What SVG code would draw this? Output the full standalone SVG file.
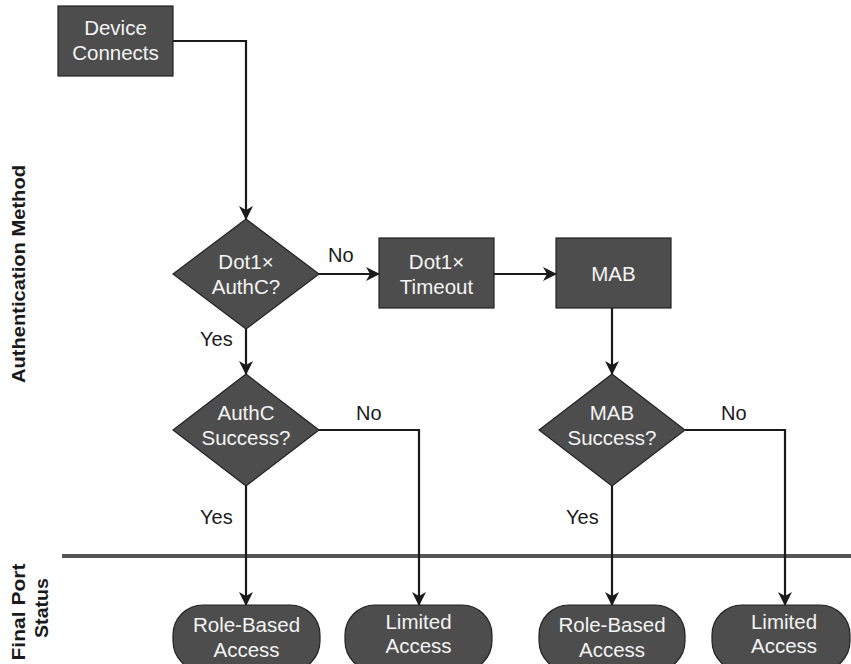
<svg xmlns="http://www.w3.org/2000/svg" width="851" height="664" viewBox="0 0 851 664">
<style>
.node{fill:#4d4d4d;stroke:#222;stroke-width:1.2}
.nt{font-family:"Liberation Sans",Arial,sans-serif;font-size:20.5px;fill:#f4f4f4;text-anchor:middle}
.lbl{font-family:"Liberation Sans",Arial,sans-serif;font-size:20px;fill:#1a1a1a}
.side{font-family:"Liberation Sans",Arial,sans-serif;font-size:18px;font-weight:bold;fill:#1a1a1a;text-anchor:middle}
.conn{fill:none;stroke:#1a1a1a;stroke-width:2.2;marker-end:url(#ah)}
</style>
<defs>
<marker id="ah" markerWidth="14" markerHeight="14" refX="13" refY="7" orient="auto" markerUnits="userSpaceOnUse">
<path d="M0,0 L14,7 L0,14 L4,7 z" fill="#1a1a1a"/>
</marker>
</defs>
<rect width="851" height="664" fill="#fff"/>
<g id="side-labels">
<text class="side" transform="translate(25,274) rotate(-90)" textLength="218" lengthAdjust="spacingAndGlyphs">Authentication Method</text>
<text class="side" transform="translate(25,612) rotate(-90)" textLength="97" lengthAdjust="spacingAndGlyphs">Final Port</text>
<text class="side" transform="translate(48,608) rotate(-90)" textLength="60" lengthAdjust="spacingAndGlyphs">Status</text>
</g>
<line id="separator" x1="62" y1="556" x2="851" y2="556" stroke="#555" stroke-width="4"/>
<g id="connectors">
<path class="conn" d="M173,41 H246 V219"/>
<path class="conn" d="M319,274 H379"/>
<path class="conn" d="M494,274 H556"/>
<path class="conn" d="M612,308 V374"/>
<path class="conn" d="M246,329 V374"/>
<path class="conn" d="M246,486 V605"/>
<path class="conn" d="M319,430 H419 V605"/>
<path class="conn" d="M612,486 V605"/>
<path class="conn" d="M685,430 H785 V605"/>
<text class="lbl" x="328" y="262">No</text>
<text class="lbl" x="200" y="346">Yes</text>
<text class="lbl" x="356" y="420">No</text>
<text class="lbl" x="200" y="524">Yes</text>
<text class="lbl" x="721" y="420">No</text>
<text class="lbl" x="566" y="524">Yes</text>
</g>
<g id="device-connects">
<rect class="node" x="58" y="6" width="115" height="70"/>
<text class="nt" x="115.5" y="35">Device</text>
<text class="nt" x="115.5" y="60">Connects</text>
</g>
<g id="dot1x-authc">
<polygon class="node" points="246,219 319,274 246,329 173,274"/>
<text class="nt" x="246" y="269">Dot1×</text>
<text class="nt" x="246" y="294">AuthC?</text>
</g>
<g id="dot1x-timeout">
<rect class="node" x="379" y="238" width="115" height="70"/>
<text class="nt" x="436.5" y="269">Dot1×</text>
<text class="nt" x="436.5" y="294">Timeout</text>
</g>
<g id="mab">
<rect class="node" x="556" y="238" width="115" height="70"/>
<text class="nt" x="613.5" y="281">MAB</text>
</g>
<g id="authc-success">
<polygon class="node" points="246,374 319,430 246,486 173,430"/>
<text class="nt" x="246" y="420">AuthC</text>
<text class="nt" x="246" y="445">Success?</text>
</g>
<g id="mab-success">
<polygon class="node" points="612,374 685,430 612,486 539,430"/>
<text class="nt" x="612" y="420">MAB</text>
<text class="nt" x="612" y="445">Success?</text>
</g>
<g id="role-based-1">
<rect class="node" x="173" y="605" width="147" height="66" rx="30"/>
<text class="nt" x="246.5" y="632">Role-Based</text>
<text class="nt" x="246.5" y="657">Access</text>
</g>
<g id="limited-1">
<rect class="node" x="345" y="605" width="147" height="66" rx="30"/>
<text class="nt" x="418.5" y="629">Limited</text>
<text class="nt" x="418.5" y="653">Access</text>
</g>
<g id="role-based-2">
<rect class="node" x="539" y="605" width="146" height="66" rx="30"/>
<text class="nt" x="612" y="632">Role-Based</text>
<text class="nt" x="612" y="657">Access</text>
</g>
<g id="limited-2">
<rect class="node" x="712" y="605" width="138" height="66" rx="30"/>
<text class="nt" x="784" y="629">Limited</text>
<text class="nt" x="784" y="653">Access</text>
</g>
</svg>
